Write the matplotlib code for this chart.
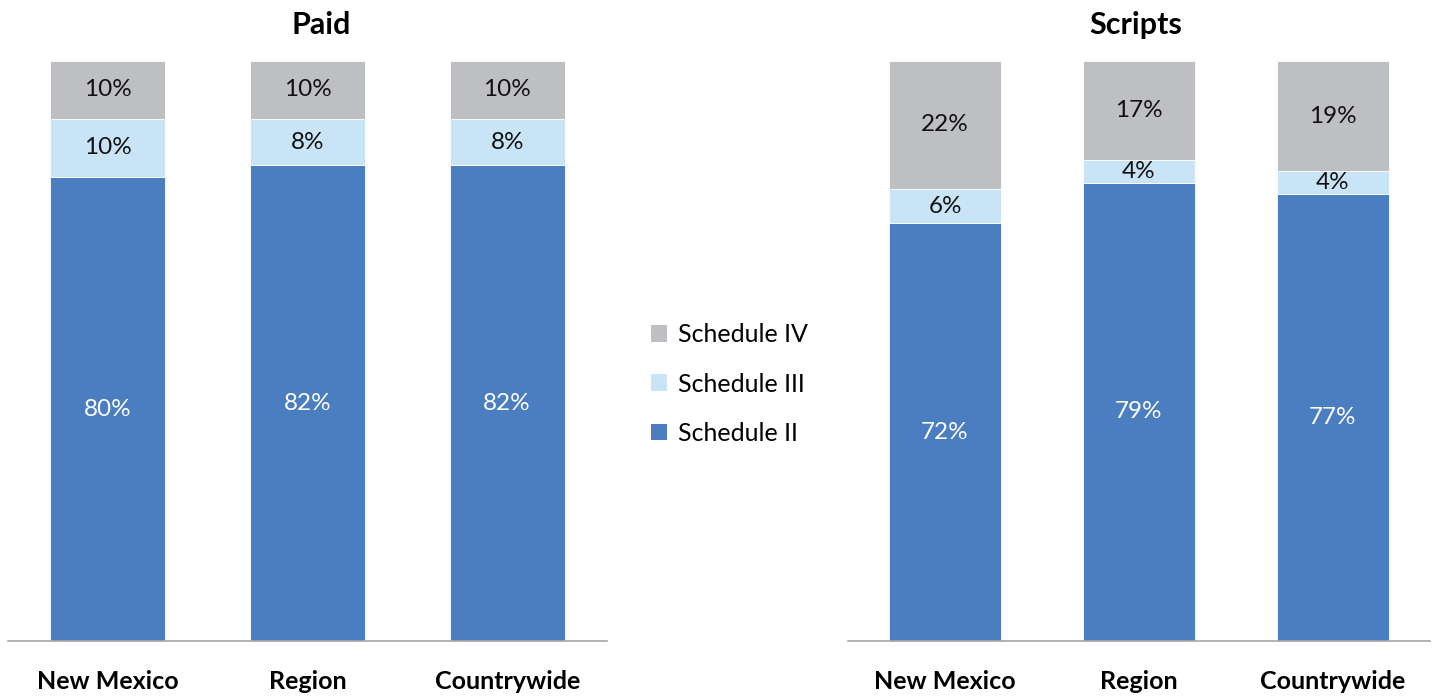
import matplotlib
matplotlib.use("Agg")
import matplotlib.pyplot as plt
from matplotlib.patches import Patch

categories = ["New Mexico", "Region", "Countrywide"]
series = ["Schedule II", "Schedule III", "Schedule IV"]
paid_ii = [80, 82, 82]
paid_iii = [10, 8, 8]
paid_iv = [10, 10, 10]
scripts_ii = [72, 79, 77]
scripts_iii = [6, 4, 4]
scripts_iv = [22, 17, 19]

colors = ["#4A7EC0", "#C9E4F6", "#BEBFC3"]
text_colors = ["white", "#111111", "#111111"]

plt.rcParams['font.family'] = ['Lato', 'DejaVu Sans']

W, H = 1434, 696
fig = plt.figure(figsize=(W / 100, H / 100), dpi=100)

def add_ax(x0, x1, y0, y1):
    return fig.add_axes([x0 / W, 1 - y1 / H, (x1 - x0) / W, (y1 - y0) / H])

ax1 = add_ax(8, 607, 61, 641)
ax2 = add_ax(848, 1430, 61, 641)

def draw(ax, data, width, title, title_x):
    x = list(range(len(categories)))
    bottom = [0] * len(categories)
    for vals, c, tc in zip(data, colors, text_colors):
        ax.bar(x, vals, width, bottom=bottom, color=c, edgecolor="white", linewidth=0.6)
        for xi, b, v in zip(x, bottom, vals):
            ax.text(xi, b + v / 2, f"{v}%", ha="center", va="center", color=tc, fontsize=17.5)
        bottom = [b + v for b, v in zip(bottom, vals)]
    ax.set_xlim(-0.5, len(categories) - 0.5)
    ax.set_ylim(0, 100)
    ax.set_yticks([])
    ax.set_xticks(x)
    ax.set_xticklabels(categories, fontsize=18, fontweight="bold")
    ax.tick_params(axis="x", length=0, pad=21)
    for s in ["top", "right", "left"]:
        ax.spines[s].set_visible(False)
    ax.spines["bottom"].set_color("#A6A6A6")
    ax.spines["bottom"].set_linewidth(1.2)
    fig.text(title_x / W, 1 - 25 / H, title, ha="center", va="center", fontsize=22, fontweight="bold")

draw(ax1, [paid_ii, paid_iii, paid_iv], 0.575, "Paid", 321)
draw(ax2, [scripts_ii, scripts_iii, scripts_iv], 0.58, "Scripts", 1136)

handles = [Patch(facecolor=colors[i], edgecolor="none") for i in [2, 1, 0]]
labels = [series[i] for i in [2, 1, 0]]
fig.legend(handles, labels, loc="center left", bbox_to_anchor=(628 / W, 1 - 384 / H),
           frameon=False, fontsize=18, handlelength=0.65, handleheight=0.65,
           handletextpad=0.45, labelspacing=1.05)

fig.savefig("out.png", dpi=100)
